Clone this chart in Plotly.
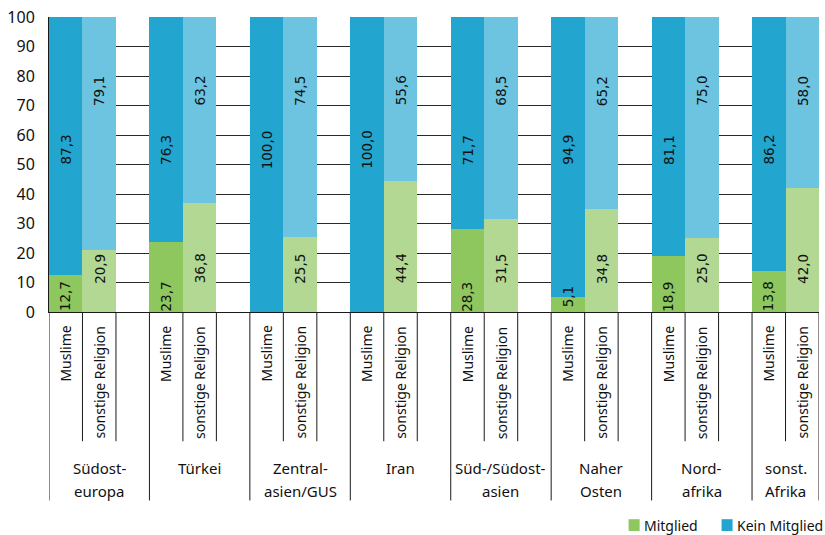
import plotly.graph_objects as go

# Herkunftsregionen (Zeilenumbruch wie im Original)
groups = ["Südost-\neuropa", "Türkei", "Zentral-\nasien/GUS", "Iran",
          "Süd-/Südost-\nasien", "Naher\nOsten", "Nord-\nafrika", "sonst.\nAfrika"]
subgroups = ["Muslime", "sonstige Religion"]

muslime_mitglied = [12.7, 23.7, 0.0, 0.0, 28.3, 5.1, 18.9, 13.8]
muslime_kein = [87.3, 76.3, 100.0, 100.0, 71.7, 94.9, 81.1, 86.2]
sonstige_mitglied = [20.9, 36.8, 25.5, 44.4, 31.5, 34.8, 25.0, 42.0]
sonstige_kein = [79.1, 63.2, 74.5, 55.6, 68.5, 65.2, 75.0, 58.0]

y_ticks = list(range(0, 101, 10))
legend_names = ["Mitglied", "Kein Mitglied"]

# Farben
c_mus_m, c_mus_k = "#8DC75E", "#22A5CF"
c_son_m, c_son_k = "#B3D893", "#6CC4E1"

# Kategorien: je Gruppe zwei Balken plus eine Leerspalte (nicht nach der letzten)
n = len(groups)
slots = []
for i in range(n):
    slots += [f"{i}-mus", f"{i}-son"]
    if i < n - 1:
        slots.append(f"{i}-leer")
x_mus = [f"{i}-mus" for i in range(n)]
x_son = [f"{i}-son" for i in range(n)]

fig = go.Figure()
for xs, ys, name, col in [(x_mus, muslime_mitglied, legend_names[0], c_mus_m),
                          (x_mus, muslime_kein, legend_names[1], c_mus_k),
                          (x_son, sonstige_mitglied, legend_names[0], c_son_m),
                          (x_son, sonstige_kein, legend_names[1], c_son_k)]:
    fig.add_trace(go.Bar(x=xs, y=ys, name=name, marker_color=col,
                         marker_line_width=0, showlegend=False))

# Wertebeschriftungen (gedreht, feste Höhe je Reihe wie im Original)
label_y = {"mus_m": 5.3, "mus_k": 55.0, "son_m": 14.7, "son_k": 75.0}
val_font = dict(family="DejaVu Sans", size=13.5, color="#111")
ann = []
for key, xs, vals in [("mus_m", x_mus, muslime_mitglied), ("mus_k", x_mus, muslime_kein),
                      ("son_m", x_son, sonstige_mitglied), ("son_k", x_son, sonstige_kein)]:
    for x, v in zip(xs, vals):
        if v == 0:
            continue
        ann.append(dict(x=x, y=label_y[key], xref="x", yref="y", text=f"{v:.1f}".replace(".", ","),
                        textangle=-90, showarrow=False, font=val_font))

# Pixel -> Papierkoordinaten
L, R, T, B = 49, 5.5, 13, 223
W, H = 825, 535
plot_w, plot_h = W - L - R, H - T - B
def py(px):
    return -px / plot_h
def pxp(px):
    return (px - L) / plot_w

lab_font = dict(family="Noto Sans", size=14, color="#111")
grp_font = dict(family="Noto Sans", size=15, color="#111")
shapes = []
line = dict(color="#1a1a1a", width=1)
for i, g in enumerate(groups):
    s = slots.index(f"{i}-mus")
    last = i == n - 1
    for j, sub in enumerate(subgroups):
        ann.append(dict(x=s + j, y=py(12), xref="x", yref="paper", text=sub, textangle=-90,
                        showarrow=False, yanchor="top", font=lab_font))
    shapes.append(dict(type="line", xref="x", yref="paper", x0=s - 0.5, x1=s - 0.5,
                       y0=0, y1=py(191), line=line))
    shapes.append(dict(type="line", xref="x", yref="paper", x0=s + 0.5, x1=s + 0.5,
                       y0=0, y1=py(131), line=line))
    shapes.append(dict(type="line", xref="x", yref="paper", x0=s + 1.5, x1=s + 1.5,
                       y0=0, y1=py(191) if last else py(131), line=line))
    width = 2 if last else 3
    cx = s + (width - 1) / 2
    for k, txt in enumerate(g.split("\n")):
        ann.append(dict(x=cx, y=py(158 + 23 * k), xref="x", yref="paper", text=txt,
                        showarrow=False, yanchor="middle", font=grp_font))

# Legende unten rechts
leg_font = dict(family="Noto Sans", size=14, color="#111")
for name, col, x0 in [(legend_names[0], c_mus_m, 629), (legend_names[1], c_mus_k, 722)]:
    shapes.append(dict(type="rect", xref="paper", yref="paper", x0=pxp(x0), x1=pxp(x0 + 11),
                       y0=py(522 - 312), y1=py(534 - 312), fillcolor=col, line_width=0))
    ann.append(dict(x=pxp(x0 + 13), y=py(528 - 312), xref="paper", yref="paper", text=name,
                    showarrow=False, xanchor="left", yanchor="middle", font=leg_font))

fig.update_layout(
    width=W, height=H,
    margin=dict(l=L, r=R, t=T, b=B),
    plot_bgcolor="white", paper_bgcolor="white",
    barmode="stack", bargap=0,
    annotations=ann, shapes=shapes,
    showlegend=False,
    xaxis=dict(type="category", categoryorder="array", categoryarray=slots,
               range=[-0.5, len(slots) - 0.5], showticklabels=False, showgrid=False,
               showline=True, linecolor="#1a1a1a", linewidth=1, ticks="", zeroline=False),
    yaxis=dict(range=[0, 100], tickvals=y_ticks, showgrid=True, gridcolor="#2a2a2a",
               gridwidth=1, showline=True, linecolor="#1a1a1a", linewidth=1, zeroline=False,
               ticks="", ticklabelstandoff=10,
               tickfont=dict(family="Noto Sans", size=16, color="#111")),
)

fig.write_html("out.html", config={"displayModeBar": False},
               post_script="document.body.style.margin='0';")
